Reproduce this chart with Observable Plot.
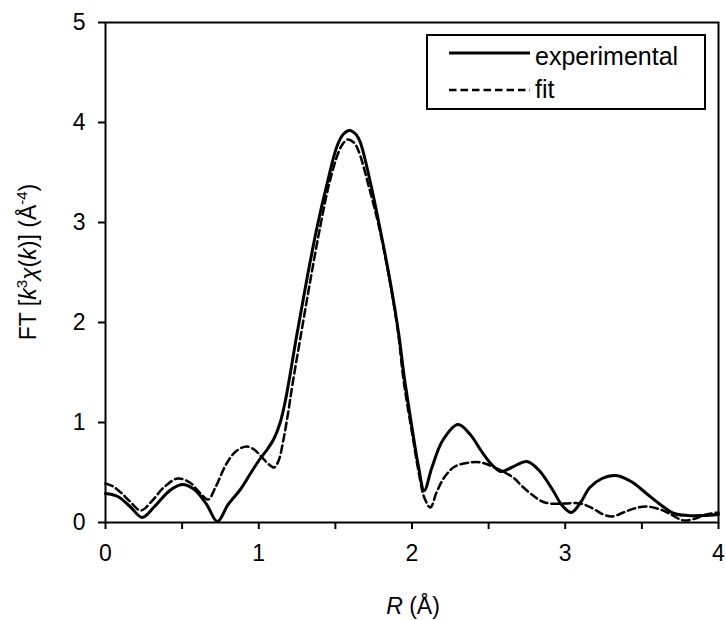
<!DOCTYPE html>
<html><head><meta charset="utf-8">
<script src="https://cdn.jsdelivr.net/npm/d3@7"></script>
<script src="https://cdn.jsdelivr.net/npm/@observablehq/plot@0.6"></script>
<style>body{margin:0;background:#fff} svg{font-family:"Liberation Sans",Arial,sans-serif}</style>
</head><body><div id="chart"></div>
<script>
const expR = [0,0.08,0.16,0.24,0.32,0.42,0.50,0.58,0.66,0.73,0.80,0.88,0.95,1.01,1.06,1.10,1.14,1.174,1.25,1.316,1.38,1.446,1.51,1.55,1.594,1.635,1.663,1.73,1.79,1.86,1.913,1.95,2.0,2.04,2.08,2.13,2.2,2.30,2.38,2.45,2.52,2.58,2.65,2.75,2.83,2.92,2.98,3.04,3.10,3.16,3.24,3.33,3.43,3.53,3.62,3.71,3.80,3.90,4.0];
const expV = [0.29,0.26,0.16,0.05,0.16,0.32,0.38,0.33,0.18,0.01,0.18,0.33,0.50,0.64,0.74,0.84,1.00,1.22,1.89,2.45,2.95,3.39,3.76,3.88,3.92,3.88,3.80,3.39,2.95,2.39,1.89,1.45,0.95,0.58,0.32,0.55,0.82,0.98,0.88,0.72,0.58,0.51,0.55,0.61,0.52,0.32,0.17,0.10,0.20,0.35,0.44,0.47,0.41,0.29,0.18,0.09,0.07,0.07,0.08];
const fitR = [0,0.05,0.10,0.16,0.23,0.30,0.38,0.47,0.55,0.62,0.67,0.72,0.79,0.85,0.92,0.97,1.01,1.06,1.10,1.13,1.16,1.19,1.22,1.28,1.34,1.40,1.46,1.52,1.55,1.58,1.62,1.65,1.72,1.79,1.86,1.91,1.945,2.0,2.05,2.08,2.12,2.16,2.21,2.28,2.38,2.45,2.51,2.58,2.66,2.72,2.79,2.85,2.90,3.00,3.10,3.18,3.25,3.305,3.38,3.45,3.53,3.62,3.69,3.75,3.78,3.85,3.92,4.0];
const fitV = [0.39,0.36,0.30,0.21,0.12,0.21,0.35,0.44,0.40,0.29,0.23,0.36,0.59,0.71,0.76,0.73,0.67,0.59,0.55,0.62,0.82,1.08,1.38,1.92,2.45,2.95,3.39,3.70,3.79,3.83,3.80,3.72,3.35,2.92,2.37,1.89,1.42,0.90,0.45,0.25,0.15,0.30,0.45,0.56,0.60,0.60,0.57,0.52,0.45,0.36,0.27,0.21,0.19,0.19,0.19,0.14,0.08,0.06,0.10,0.14,0.16,0.13,0.08,0.03,0.02,0.04,0.08,0.10];
const xTicks = [0,0.5,1,1.5,2,2.5,3,3.5,4];
const yTicks = [0,1,2,3,4,5];
const seriesNames = ["experimental","fit"];

const exp = expR.map((r,i)=>({R:r,v:expV[i]}));
const fit = fitR.map((r,i)=>({R:r,v:fitV[i]}));

const chart = Plot.plot({
  width:726, height:620,
  marginLeft:105, marginRight:8, marginTop:22, marginBottom:98,
  style:{fontFamily:'"Liberation Sans",Arial,sans-serif', fontSize:"23px", color:"#000", background:"#fff", overflow:"visible"},
  x:{domain:[0,4], label:null},
  y:{domain:[0,5], label:null},
  marks:[
    Plot.frame({stroke:"#000", strokeWidth:2}),
    Plot.axisX({ticks:xTicks, tickFormat:d=>Number.isInteger(d)?String(d):"", tickSize:7, tickPadding:15, stroke:"#000", strokeWidth:2, label:null}),
    Plot.axisY({ticks:yTicks, tickFormat:d=>String(d), tickSize:7, tickPadding:13, stroke:"#000", strokeWidth:2, label:null}),
    Plot.line(fit,{x:"R",y:"v",stroke:"#000",strokeWidth:2.5,strokeDasharray:"7.5,4",curve:"catmull-rom"}),
    Plot.line(exp,{x:"R",y:"v",stroke:"#000",strokeWidth:3,curve:"catmull-rom"})
  ]
});
document.getElementById("chart").appendChild(chart);

const svg = d3.select(chart);
// y label
const yl = svg.append("text").attr("transform","translate(28,262) rotate(-90)")
  .attr("text-anchor","middle").attr("dy","0.35em").attr("font-size",23).attr("fill","#000");
yl.append("tspan").text("FT [");
yl.append("tspan").attr("font-style","italic").text("k");
yl.append("tspan").attr("font-size",15).attr("dy",-9).text("3");
yl.append("tspan").attr("font-style","italic").attr("dy",9).text("χ");
yl.append("tspan").text("(");
yl.append("tspan").attr("font-style","italic").text("k");
yl.append("tspan").text(")] (Å");
yl.append("tspan").attr("font-size",15).attr("dy",-9).text("-4");
yl.append("tspan").attr("dy",9).text(")");
// x label
const xl = svg.append("text").attr("x",413).attr("y",614).attr("text-anchor","middle").attr("font-size",23).attr("fill","#000");
xl.append("tspan").attr("font-style","italic").text("R");
xl.append("tspan").text(" (Å)");
// legend
const lg = svg.append("g");
lg.append("rect").attr("x",427).attr("y",35).attr("width",278).attr("height",74).attr("fill","#fff").attr("stroke","#000").attr("stroke-width",2);
lg.append("line").attr("x1",449).attr("x2",530).attr("y1",53).attr("y2",53).attr("stroke","#000").attr("stroke-width",3);
lg.append("line").attr("x1",449).attr("x2",530).attr("y1",90).attr("y2",90).attr("stroke","#000").attr("stroke-width",2.5).attr("stroke-dasharray","7.5,4");
lg.append("text").attr("x",535).attr("y",65).attr("text-anchor","start").attr("font-size",25).attr("fill","#000").text(seriesNames[0]);
lg.append("text").attr("x",535).attr("y",98).attr("text-anchor","start").attr("font-size",25).attr("fill","#000").text(seriesNames[1]);
</script></body></html>
